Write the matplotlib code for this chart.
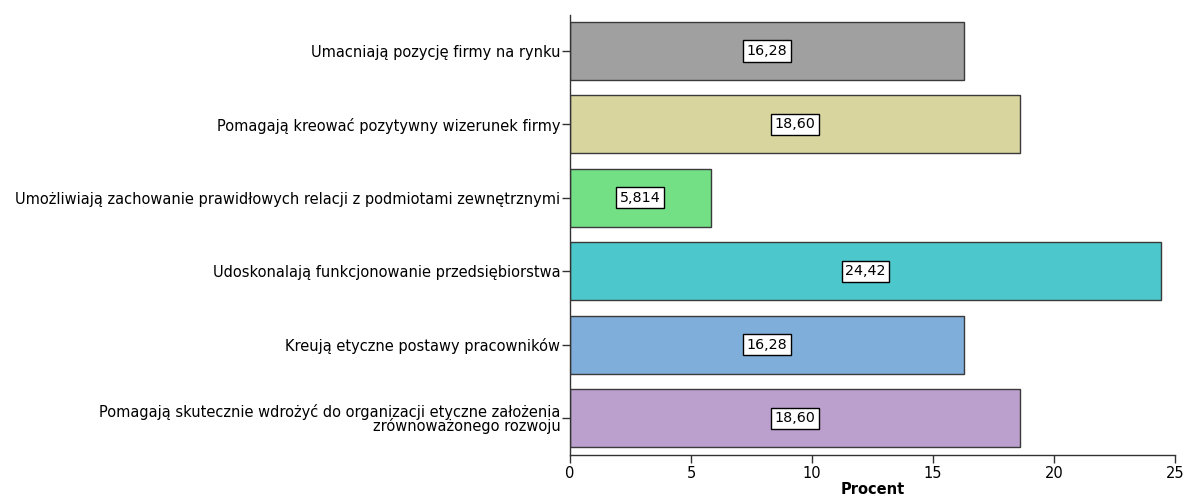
import matplotlib
matplotlib.use("Agg")
import matplotlib.pyplot as plt

categories = [
    "Umacniają pozycję firmy na rynku",
    "Pomagają kreować pozytywny wizerunek firmy",
    "Umożliwiają zachowanie prawidłowych relacji z podmiotami zewnętrznymi",
    "Udoskonalają funkcjonowanie przedsiębiorstwa",
    "Kreują etyczne postawy pracowników",
    "Pomagają skutecznie wdrożyć do organizacji etyczne założenia\nzrównoważonego rozwoju",
]
values = [16.28, 18.60, 5.814, 24.42, 16.28, 18.60]
value_labels = ["16,28", "18,60", "5,814", "24,42", "16,28", "18,60"]
colors = ["#a0a0a0", "#d9d59e", "#74e086", "#4cc8cc", "#7eaed9", "#bb9fcd"]
x_ticks = [0, 5, 10, 15, 20, 25]

fig = plt.figure(figsize=(11.85, 5.0), dpi=100)
ax = fig.add_axes([0.481, 0.09, 0.5106, 0.88])

pos = list(range(len(categories)))
ax.barh(pos, values, height=0.79, color=colors, edgecolor="#3a3a3a", linewidth=1.0, zorder=2)

for p, v, lab in zip(pos, values, value_labels):
    ax.text(v / 2, p, lab, ha="center", va="center", fontsize=10.3, color="black",
            bbox=dict(boxstyle="square,pad=0.25", facecolor="white", edgecolor="black", linewidth=1.0),
            zorder=3)

ax.set_ylim(5.5, -0.49)
ax.set_xlim(0, 25)
ax.set_yticks(pos)
ax.set_yticklabels(categories, fontsize=10.5, ha="right", linespacing=0.9)
ax.set_xticks(x_ticks)
ax.set_xticklabels([str(t) for t in x_ticks], fontsize=10.5)
ax.set_xlabel("Procent", fontsize=10.5, fontweight="bold", labelpad=1)

for s in ["top", "right"]:
    ax.spines[s].set_visible(False)
for s in ["left", "bottom"]:
    ax.spines[s].set_color("#333333")
    ax.spines[s].set_linewidth(1.0)
ax.tick_params(axis="both", direction="out", length=6, width=1.0, color="#333333", pad=2)
ax.tick_params(axis="y", pad=1)

fig.savefig("out.png", dpi=100)
